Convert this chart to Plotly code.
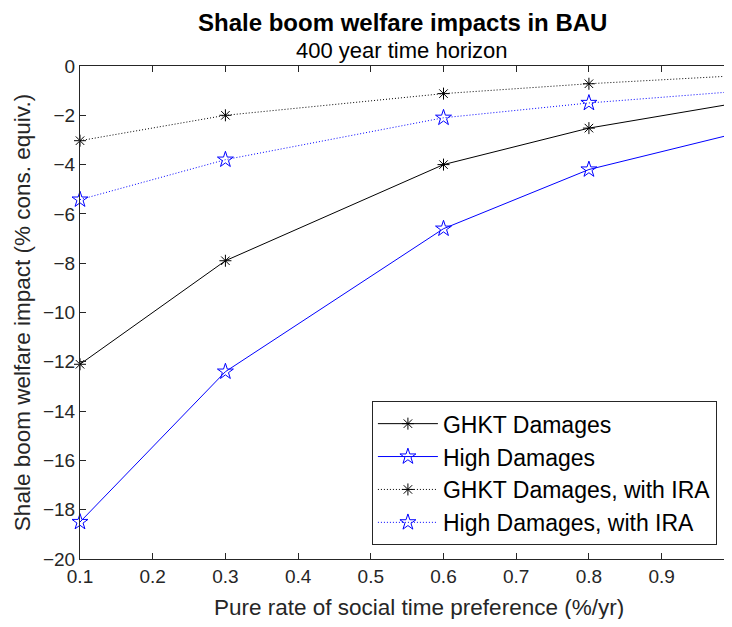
import plotly.graph_objects as go

x_vals = [0.1, 0.3, 0.6, 0.8, 1.0]
ghkt = [-12.1, -7.9, -4.0, -2.52, -1.52]
high = [-18.5, -12.4, -6.6, -4.2, -2.75]
ghkt_ira = [-3.03, -2.0, -1.12, -0.72, -0.4]
high_ira = [-5.42, -3.8, -2.1, -1.5, -1.04]

series_names = ["GHKT Damages", "High Damages", "GHKT Damages, with IRA", "High Damages, with IRA"]
x_tick_vals = [0.1, 0.2, 0.3, 0.4, 0.5, 0.6, 0.7, 0.8, 0.9, 1.0]
x_tick_text = ["0.1", "0.2", "0.3", "0.4", "0.5", "0.6", "0.7", "0.8", "0.9", "1"]
y_tick_vals = [0, -2, -4, -6, -8, -10, -12, -14, -16, -18, -20]

FONT = "Liberation Sans, Arial, Helvetica, sans-serif"
BLACK = "#000000"
BLUE = "#0000ff"
AX = "#262626"

fig = go.Figure()
styles = [
    (ghkt, BLACK, "solid", "asterisk-open", 10),
    (high, BLUE, "solid", "star-open", 12),
    (ghkt_ira, BLACK, "1px,2px", "asterisk-open", 10),
    (high_ira, BLUE, "1px,2px", "star-open", 12),
]
for name, (vals, col, dash, sym, sz) in zip(series_names, styles):
    fig.add_trace(go.Scatter(
        x=x_vals, y=vals, name=name, mode="lines+markers",
        line=dict(color=col, width=1, dash=dash),
        marker=dict(symbol=sym, size=sz, color=col, line=dict(color=col, width=1)),
        cliponaxis=False,
    ))

# page body has an 8px margin, so the figure is sized to fit the window
fig.update_layout(
    width=716, height=611,
    margin=dict(l=72, r=0, t=58, b=60),
    paper_bgcolor="white", plot_bgcolor="white",
    font=dict(family=FONT, size=19, color=AX),
    showlegend=True,
    legend=dict(
        x=0.989, y=0.028, xanchor="right", yanchor="bottom",
        bgcolor="white", bordercolor=AX, borderwidth=1,
        font=dict(family=FONT, size=23, color="#000000"),
        tracegroupgap=0, itemwidth=60,
    ),
    annotations=[
        dict(text="<b>Shale boom welfare impacts in BAU</b>", xref="paper", yref="paper",
             x=0.5, y=1, yshift=44, yanchor="middle", showarrow=False,
             font=dict(family=FONT, size=24, color="#000000")),
        dict(text="400 year time horizon", xref="paper", yref="paper",
             x=0.5, y=1, yshift=16, yanchor="middle", showarrow=False,
             font=dict(family=FONT, size=22, color="#000000")),
        dict(text="Pure rate of social time preference (%/yr)", xref="paper", yref="paper",
             x=0.526, y=0, yshift=-48, yanchor="middle", showarrow=False,
             font=dict(family=FONT, size=22.5, color=AX)),
    ],
)
fig.update_xaxes(
    range=[0.1, 0.9858], tickvals=x_tick_vals, ticktext=x_tick_text,
    ticks="inside", ticklen=6, tickcolor=AX,
    showline=True, linecolor=AX, linewidth=1, mirror="ticks",
    showgrid=False, zeroline=False,
    tickfont=dict(size=19),
)
fig.update_yaxes(
    range=[-20, 0], tickvals=y_tick_vals,
    ticks="inside", ticklen=6, tickcolor=AX,
    showline=True, linecolor=AX, linewidth=1, mirror=False,
    showgrid=False, zeroline=False,
    tickfont=dict(size=19),
    title=dict(text="Shale boom welfare impact (% cons. equiv.)", font=dict(size=22.5), standoff=6),
)

fig.write_html("out.html")
